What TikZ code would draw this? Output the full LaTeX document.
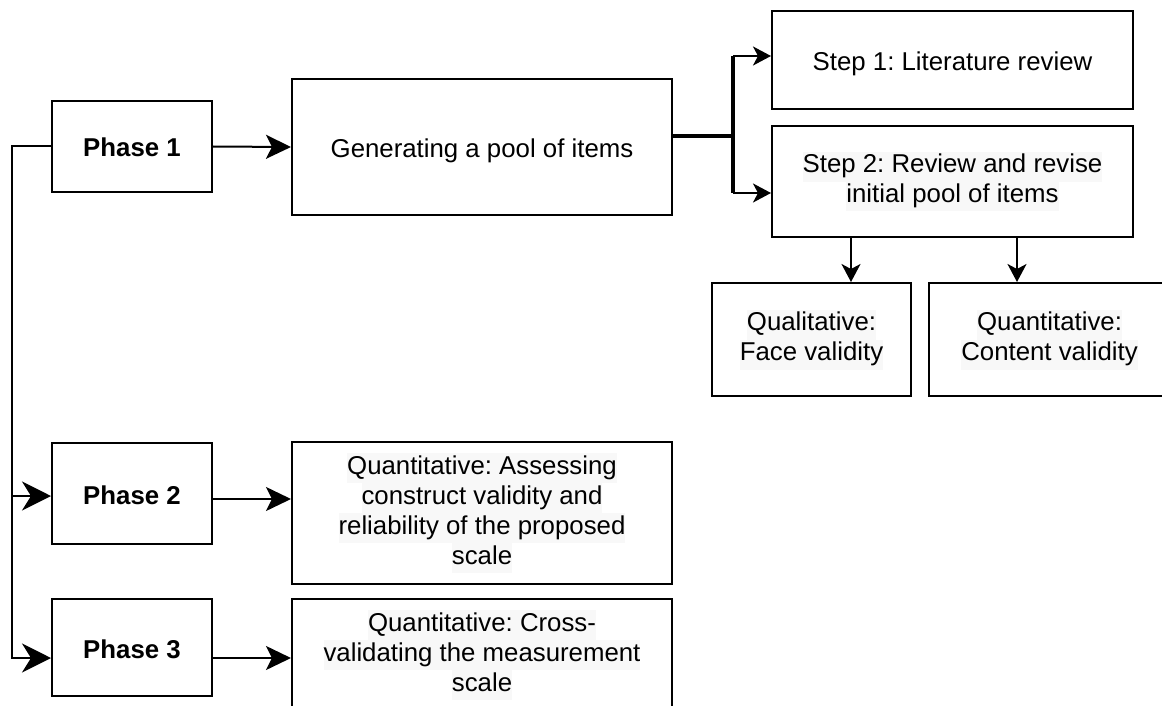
\documentclass[tikz,border=0pt]{standalone}
\usepackage{fontspec}
\setmainfont{Liberation Sans}
\usetikzlibrary{arrows.meta}
\definecolor{hlgray}{RGB}{248,248,248}
\frenchspacing
% one text line on a faint grey band
\newcommand\hlline[1]{{\setlength{\fboxsep}{0pt}\colorbox{hlgray}{\strut #1}}}
\begin{document}
\begin{tikzpicture}[x=1pt,y=-1pt,
  box/.style={draw, line width=2pt, rectangle, inner sep=0pt, align=center,
    font=\fontsize{25.8}{30}\selectfont},
  oneline/.style={text height=24pt, text depth=3pt},
  phase/.style={box, oneline, font=\fontsize{25.8}{30}\selectfont\bfseries, minimum width=160pt},
  conn/.style={line width=2pt},
  bigtip/.tip={Stealth[length=25pt,width=24pt,inset=6pt]},
  smalltip/.tip={Stealth[length=18pt,width=19pt,inset=5pt]},
  lefttip/.tip={Stealth[length=29pt,width=29pt,inset=9pt]},
  trunk/.style={line width=4pt}
]
\useasboundingbox (0,0) rectangle (1162,706);

% phases
\node[phase, minimum height=91pt]  (p1) at (132,146.5) {Phase 1};
\node[phase, minimum height=101pt] (p2) at (132,493.5) {Phase 2};
\node[phase, minimum height=97pt]  (p3) at (132,647.5) {Phase 3};

% phase 1 detail
\node[box, oneline, minimum width=380pt, minimum height=136pt] (gen) at (482,147) {Generating a pool of items};
\node[box, oneline, minimum width=361pt, minimum height=98pt] (s1) at (952.5,60) {Step 1: Literature review};
\node[box, minimum width=361pt, minimum height=111pt] (s2) at (952.5,181.5)
  {\hlline{Step 2: Review and revise}\\\hlline{initial pool of items}};
\node[box, minimum width=199pt, minimum height=113pt] (qual) at (811.5,339.5)
  {\hlline{Qualitative:}\\\hlline{Face validity}};
\node[box, minimum width=241pt, minimum height=113pt] (quant) at (1049.5,339.5)
  {\hlline{Quantitative:}\\\hlline{Content validity}};

% phase 2 and 3 detail
\node[box, minimum width=380pt, minimum height=142pt] (p2r) at (482,513)
  {\hlline{Quantitative: Assessing}\\\hlline{construct validity and}\\
   \hlline{reliability of the proposed}\\\hlline{scale}};
\node[box, minimum width=380pt, minimum height=112pt] (p3r) at (482,655)
  {\hlline{Quantitative: Cross-}\\\hlline{validating the measurement}\\\hlline{scale}};

% phase arrows
\draw[conn, -bigtip] (p1.east) -- (gen.west);
\draw[conn, -bigtip] (p2.east |- 0,499) -- (p2r.west |- 0,499);
\draw[conn, -bigtip] (p3.east |- 0,658) -- (p3r.west |- 0,658);

% left spine linking the phases
\coordinate (spine) at (12,0);
\draw[conn, -lefttip] (p1.west) -- (spine |- p1.west) -- (spine |- 0,496) -- (p2.west |- 0,496);
\draw[conn, -lefttip] (spine |- 0,496) -- (spine |- 0,658) -- (p3.west |- 0,658);

% branch from the item pool to the two steps
\coordinate (j) at (733,136);
\draw[trunk] (gen.east |- j) -- (j) (j |- 0,56) -- (j |- 0,193);
\draw[conn, -smalltip] (j |- 0,56) -- (s1.west |- 0,56);
\draw[conn, -smalltip] (j |- 0,193) -- (s2.west |- 0,193);

% step 2 to the validity checks
\draw[conn, -smalltip] (s2.south -| 851,0) -- (qual.north -| 851,0);
\draw[conn, -smalltip] (s2.south -| 1017,0) -- (quant.north -| 1017,0);
\end{tikzpicture}
\end{document}
